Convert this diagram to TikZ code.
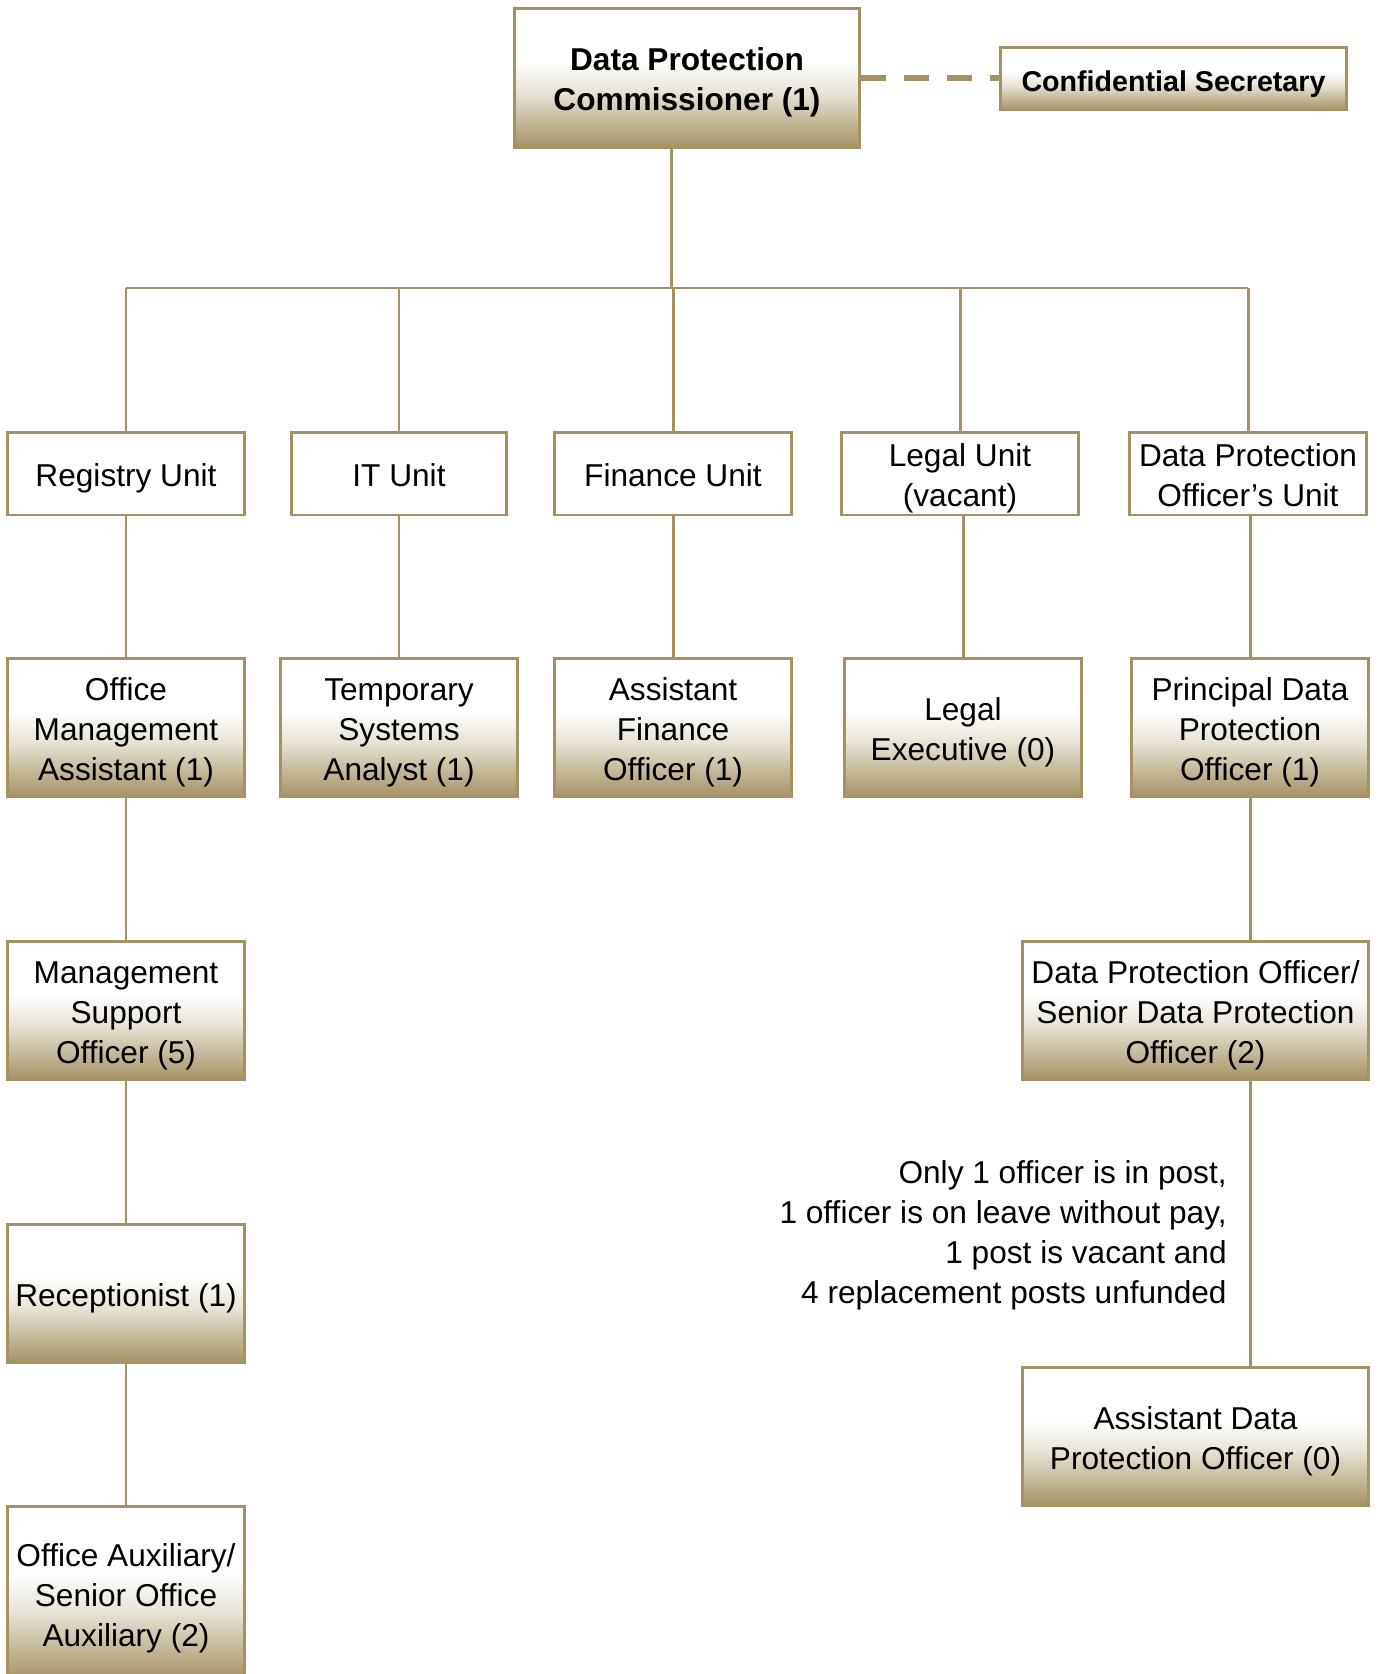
\documentclass[tikz,border=0pt]{standalone}
\usepackage{fontspec}
\setmainfont{Liberation Sans}
\usetikzlibrary{calc}

\definecolor{dpgold}{RGB}{164,146,98}
% white on top, gold at the bottom of each post box
\pgfdeclareverticalshading{postshade}{100bp}{color(0bp)=(dpgold); color(25bp)=(dpgold); color(33bp)=(dpgold!70!white); color(45bp)=(dpgold!25!white); color(56bp)=(white); color(100bp)=(white)}

\begin{document}
\begin{tikzpicture}[x=0.02cm,y=-0.02cm,
  unit/.style={draw=dpgold,line width=1.7pt,fill=white,minimum width=4.76cm,minimum height=1.66cm,
    align=center,inner xsep=2pt,inner ysep=0pt,font=\fontsize{18pt}{22.8pt}\selectfont,
    text height=18.3pt,text depth=3.8pt},
  post/.style={unit,shade,shading=postshade,minimum height=2.78cm,text height=63.9pt},
  oneline/.style={text height=18.3pt},
  twoline/.style={text height=41.1pt},
  link/.style={dpgold,line width=1.7pt}]

\useasboundingbox (0,0) rectangle (1381,1674);

% top
\node[post,twoline,minimum width=6.92cm,font=\bfseries\fontsize{18pt}{22.8pt}\selectfont] (dpc) at (687,78) {Data Protection\\Commissioner (1)};
\node[post,minimum width=6.94cm,minimum height=1.26cm,font=\bfseries\fontsize{16.3pt}{20pt}\selectfont,
  text height=18.5pt,text depth=3.4pt] (sec) at (1173.5,78.5) {Confidential Secretary};
\draw[link,line width=3pt,dash pattern=on 0.5cm off 0.36cm] (dpc.east) -- (dpc.east -| sec.west);

% units
\node[unit] (reg) at (126,473.5) {Registry Unit};
\node[unit,minimum width=4.32cm] (it) at (399,473.5) {IT Unit};
\node[unit] (fin) at (673,473.5) {Finance Unit};
\node[unit,twoline] (legal) at (960,473.5) {Legal Unit\\(vacant)};
\node[unit,twoline] (dpou) at (1248,473.5) {Data Protection\\Officer’s Unit};

\coordinate (hub) at (671,288);
\draw[link] (dpc.south -| hub) -- (hub);
\draw[link] (hub -| reg.north) -- (hub -| dpou.north);
\foreach \u in {reg,it,fin,legal,dpou}
  \draw[link] (hub -| \u.north) -- (\u.north);

% posts
\node[post] (oma) at (126,727.5) {Office\\Management\\Assistant (1)};
\node[post] (tsa) at (399,727.5) {Temporary\\Systems\\Analyst (1)};
\node[post] (afo) at (673,727.5) {Assistant\\Finance\\Officer (1)};
\node[post,twoline] (lex) at (963,727.5) {Legal\\Executive (0)};
\node[post] (pdpo) at (1250,727.5) {Principal Data\\Protection\\Officer (1)};

\draw[link] (reg) -- (oma);
\draw[link] (it) -- (tsa);
\draw[link] (fin) -- (afo);
\draw[link] (lex.north |- legal.south) -- (lex.north);
\draw[link] (pdpo.north |- dpou.south) -- (pdpo.north);

% registry column
\node[post] (mso) at (126,1010.5) {Management\\Support\\Officer (5)};
\node[post,oneline] (rec) at (126,1293.5) {Receptionist (1)};
\node[post,minimum height=3.5cm] (oaux) at (126,1593.5) {Office Auxiliary/\\Senior Office\\Auxiliary (2)};
\draw[link] (oma) -- (mso);
\draw[link] (mso) -- (rec);
\draw[link] (rec) -- (oaux);

% data protection column
\node[post,minimum width=6.94cm] (dpo) at (1195.5,1010.5) {Data Protection Officer/\\Senior Data Protection\\Officer (2)};
\node[post,twoline,minimum width=6.94cm] (adpo) at (1195.5,1436.5) {Assistant Data\\Protection Officer (0)};
\draw[link] (pdpo.south) -- (pdpo.south |- dpo.north);
\draw[link] (pdpo.south |- dpo.south) -- (pdpo.south |- adpo.north);

\node[align=right,anchor=east,inner sep=0pt,font=\fontsize{18pt}{22.8pt}\selectfont] (note) at (1227,1235.5)
  {Only 1 officer is in post,\\1 officer is on leave without pay,\\1 post is vacant and\\4 replacement posts unfunded};

\end{tikzpicture}
\end{document}
